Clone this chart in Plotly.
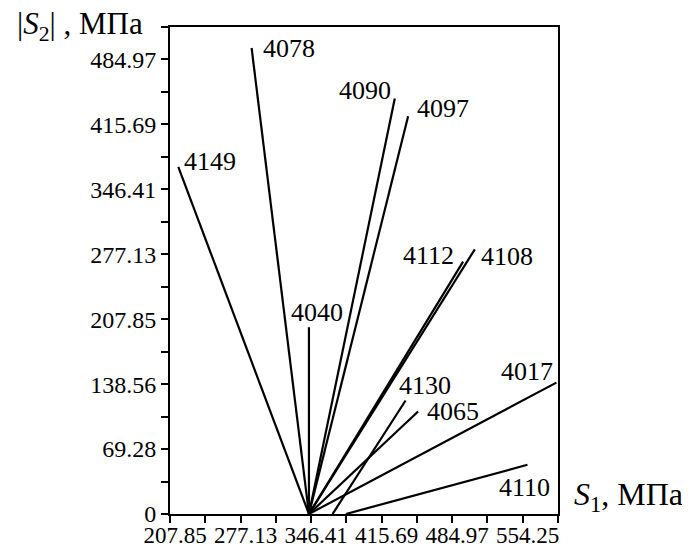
import plotly.graph_objects as go

# ---- data ----
series_labels = ["4149", "4078", "4040", "4090", "4097", "4112", "4108", "4130", "4065", "4017", "4110"]
x_start = [344.3, 344.3, 344.3, 344.3, 344.3, 344.3, 344.3, 367.5, 344.3, 344.3, 380.6]
y_start = [0, 0, 0, 0, 0, 0, 0, 0, 0, 0, 0]
x_end = [216.0, 288.0, 344.3, 428.6, 441.7, 495.7, 507.2, 439.2, 451.5, 587.3, 558.9]
y_end = [370.4, 497.2, 199.3, 443.3, 424.4, 269.2, 282.4, 121.1, 109.3, 140.2, 52.5]

x_tick_labels = ["207.85", "277.13", "346.41", "415.69", "484.97", "554.25"]
y_tick_labels = ["0", "69.28", "138.56", "207.85", "277.13", "346.41", "415.69", "484.97"]

# label placement (style): xanchor, xshift, yshift
label_style = {
    "4149": ("left", 4, 5),
    "4078": ("left", 9, 0),
    "4040": ("center", 8, 15),
    "4090": ("right", -2, 8),
    "4097": ("left", 7, 8),
    "4112": ("right", -7, 6),
    "4108": ("left", 4, -7),
    "4130": ("left", -9, 15),
    "4065": ("left", 7, 0),
    "4017": ("right", -1, 11),
    "4110": ("right", 25, -23),
}

FONT = "Liberation Serif, Times New Roman, serif"

xs, ys = [], []
for a, b, c, d in zip(x_start, y_start, x_end, y_end):
    xs += [a, c, None]
    ys += [b, d, None]

fig = go.Figure()
fig.add_trace(go.Scatter(x=xs, y=ys, mode="lines",
                         line=dict(color="black", width=2.2),
                         hoverinfo="skip", showlegend=False))

for lab, xe, ye in zip(series_labels, x_end, y_end):
    xa, xsft, ysft = label_style[lab]
    fig.add_annotation(x=xe, y=ye, xref="x", yref="y", text=lab, showarrow=False,
                       xanchor=xa, yanchor="middle", xshift=xsft, yshift=ysft,
                       font=dict(family=FONT, size=26, color="black"))

xv = [float(v) for v in x_tick_labels]
yv = [float(v) for v in y_tick_labels]
xstep = (xv[1] - xv[0]) / 2
ystep = (yv[1] - yv[0]) / 2
x_ticks, x_text = [], []
for i, v in enumerate(xv):
    x_ticks += [v, v + xstep]
    x_text += [x_tick_labels[i], ""]
y_ticks, y_text = [], []
for i, v in enumerate(yv):
    y_ticks += [v, v + ystep]
    y_text += [y_tick_labels[i], ""]

fig.update_xaxes(range=[xv[0], xv[-1] + xstep], tickvals=x_ticks, ticktext=x_text,
                 showgrid=False, zeroline=False, showline=True, linecolor="black", linewidth=2,
                 mirror=True, ticks="outside", ticklen=7, tickwidth=2, tickcolor="black",
                 tickfont=dict(family=FONT, size=23, color="black"), ticklabelshift=5,
                 ticklabelstandoff=-8, automargin=False)
fig.update_yaxes(range=[yv[0], yv[-1] + ystep], tickvals=y_ticks, ticktext=y_text,
                 showgrid=False, zeroline=False, showline=True, linecolor="black", linewidth=2,
                 mirror=True, ticks="outside", ticklen=7, tickwidth=2, tickcolor="black",
                 tickfont=dict(family=FONT, size=24, color="black"), automargin=False)

fig.add_annotation(xref="paper", yref="paper", x=-0.40, y=1.003, xanchor="left", yanchor="middle",
                   text="|<i>S</i><sub>2</sub>| , МПа", showarrow=False,
                   font=dict(family=FONT, size=31, color="black"))
fig.add_annotation(xref="paper", yref="paper", x=1.035, y=0.035, xanchor="left", yanchor="middle",
                   text="<i>S</i><sub>1</sub>, МПа", showarrow=False,
                   font=dict(family=FONT, size=32, color="black"))

# page body has an 8px default margin, so the figure is 8px smaller on each axis
fig.update_layout(width=682, height=540, margin=dict(l=162, r=132, t=19, b=34),
                  plot_bgcolor="white", paper_bgcolor="white")

fig.write_html("out.html")
